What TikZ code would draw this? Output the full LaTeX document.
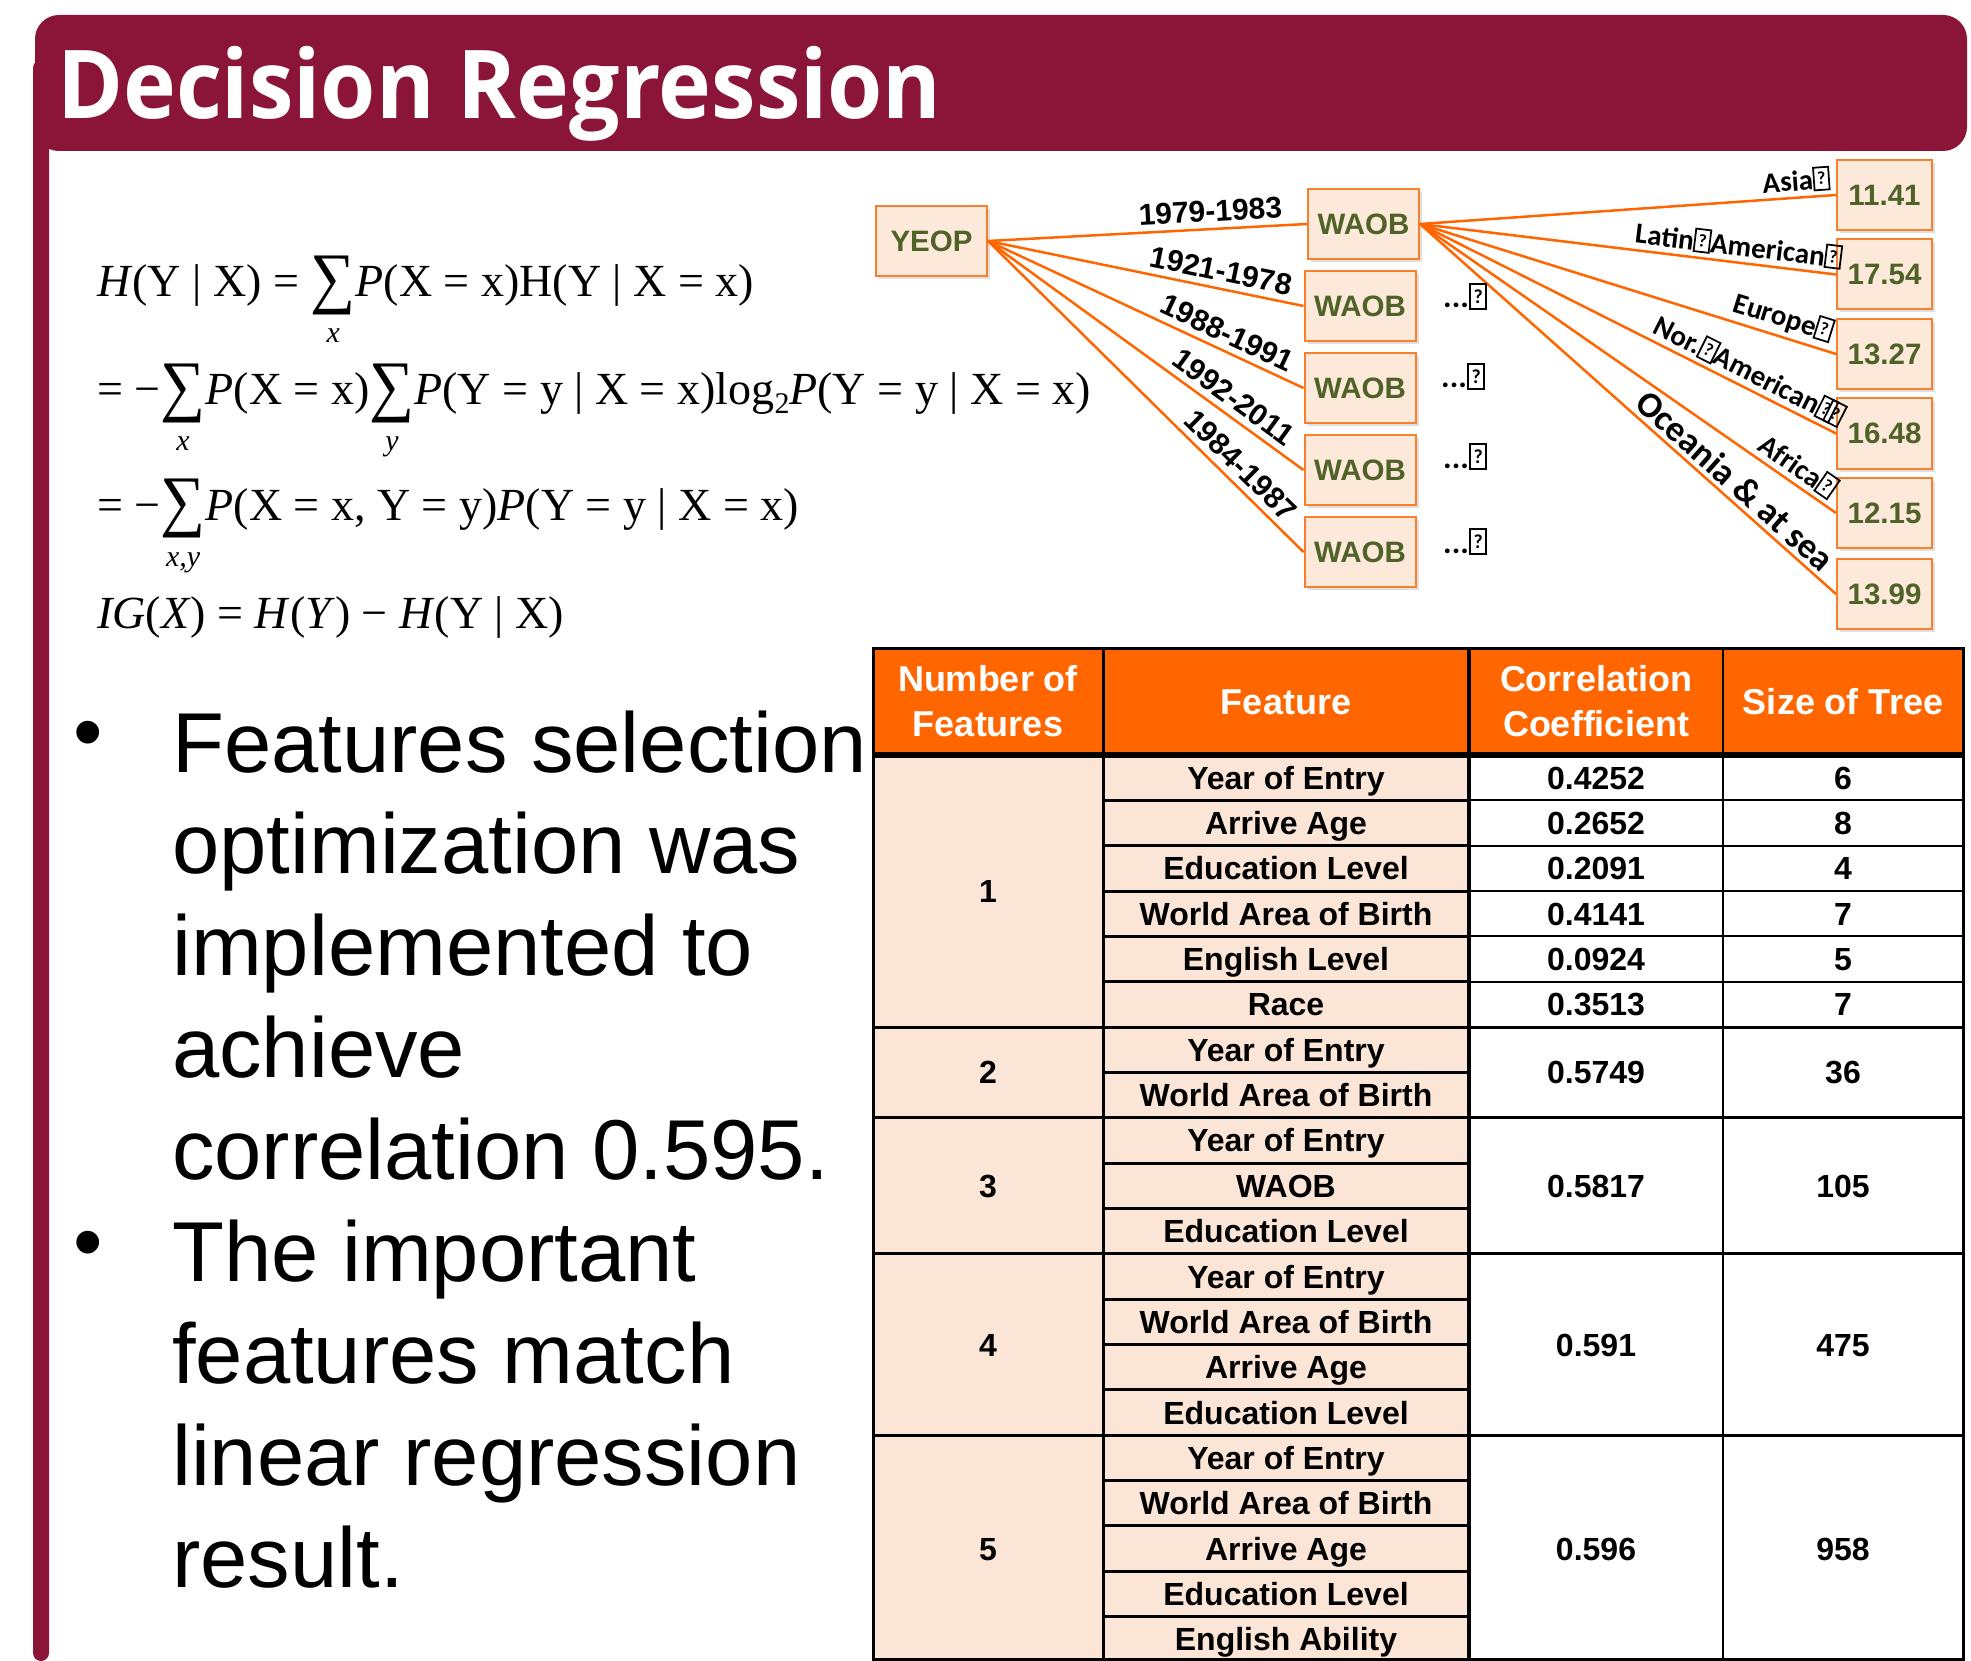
\RequirePackage{fix-cm}
\documentclass[tikz,border=0pt]{standalone}
\usepackage{fontspec}
\usepackage{graphicx}
\usetikzlibrary{shadows}
\setmainfont{Liberation Sans}
\newfontfamily\titlef{Open Sans}
\newfontfamily\calf{Carlito}
\newfontfamily\serf{Liberation Serif}
\newcommand\fsz[1]{\fontsize{#1}{#1}\selectfont}
\newcommand\qb{{\fboxsep=0pt\fboxrule=0.06em\fbox{\vbox to 0.72em{\vss\hbox to 0.46em{\hss\scalebox{0.62}{?}\hss}\vss}}}}
\newcommand\SUMop[1]{\mbox{\rlap{\raisebox{-18pt}{\resizebox{45pt}{59pt}{\raisebox{\depth}{\serf ∑}}}}\makebox[45pt]{\raisebox{-46pt}[0pt][0pt]{\serf\itshape\fsz{30}#1}}}}
\definecolor{mymaroon}{RGB}{139,21,56}
\definecolor{edgeor}{RGB}{255,102,0}
\definecolor{boxor}{RGB}{246,128,44}
\definecolor{boxfill}{RGB}{253,233,217}
\definecolor{olivetxt}{RGB}{79,98,40}
\definecolor{hdror}{RGB}{255,102,0}
\definecolor{peach}{RGB}{251,229,214}
\tikzset{
  tbox/.style={draw=boxor, fill=boxfill, line width=2pt, minimum width=111pt, minimum height=70pt, inner sep=0pt, text=olivetxt, font=\bfseries\fsz{29.5}, drop shadow={shadow xshift=3pt, shadow yshift=-3pt, opacity=0.25, fill=gray}},
  lbox/.style={tbox, minimum width=95pt},
  edge/.style={draw=edgeor, line width=2.5pt},
  elab/.style={sloped, above=6pt, inner sep=0pt, font=\bfseries\fsz{30}},
  llab/.style={sloped, above=4pt, inner sep=0pt, font=\calf\bfseries\fsz{29}},
  dotlab/.style={anchor=base west, inner sep=0pt, font=\calf\bfseries\fsz{32}},
  eqn/.style={anchor=base west, inner sep=0pt, font=\serf\fsz{46}},
  btxt/.style={anchor=base west, inner sep=0pt, font=\fsz{85}},
  bul/.style={inner sep=0pt, font=\fsz{84}},
  cell/.style={anchor=base, inner sep=0pt, font=\bfseries\fsz{32}},
  hcell/.style={anchor=base, inner sep=0pt, text=white, font=\bfseries\fsz{36}},
  rowline/.style={line width=3pt, black},
  thinrow/.style={line width=2pt, black},
  grpline/.style={line width=3pt, black},
}
\begin{document}
\begin{tikzpicture}[x=1pt,y=-1pt]
\useasboundingbox (0,0) rectangle (1971,1661);
% title band and side bar
\fill[mymaroon, rounded corners=24pt] (35,15) rectangle (1967,151);
\fill[mymaroon, rounded corners=8pt] (33,60) rectangle (49,1661);
\node[anchor=base west, inner sep=0pt, text=white, font=\titlef\bfseries\fsz{95}] (title) at (57,119) {\scalebox{0.94}[1]{Decision Regression}};

% equations
\node[eqn] (eq1) at (97,297) {\textit{H}(Y | X) = \SUMop{x}\textit{P}(X = x)H(Y | X = x)};
\node[eqn] (eq2) at (97,405) {= −\SUMop{x}\textit{P}(X = x)\SUMop{y}\textit{P}(Y = y | X = x)log\raisebox{-9pt}{\fsz{30}2}\textit{P}(Y = y | X = x)};
\node[eqn] (eq3) at (97,520) {= −\SUMop{x,y}\textit{P}(X = x, Y = y)\textit{P}(Y = y | X = x)};
\node[eqn] (eq4) at (97,628) {\textit{IG}(\textit{X}) = \textit{H}(\textit{Y}) − \textit{H}(Y | X)};

% tree
\node[tbox] (yeop) at (931.5,241) {YEOP};
\node[tbox] (w1) at (1363.5,224) {WAOB};
\node[tbox] (w2) at (1360,306) {WAOB};
\node[tbox] (w3) at (1360,388) {WAOB};
\node[tbox] (w4) at (1360,470) {WAOB};
\node[tbox] (w5) at (1360,552) {WAOB};
\node[lbox] (l1) at (1884.5,195) {11.41};
\node[lbox] (l2) at (1884.5,274.5) {17.54};
\node[lbox] (l3) at (1884.5,354) {13.27};
\node[lbox] (l4) at (1884.5,433.5) {16.48};
\node[lbox] (l5) at (1884.5,513) {12.15};
\node[lbox] (l6) at (1884.5,594) {13.99};

\draw[edge] (yeop.east) -- node[elab, pos=0.70] {1979-1983} (w1.west);
\draw[edge] (yeop.east) -- node[elab, pos=0.728] {1921-1978} (w2.west);
\draw[edge] (yeop.east) -- node[elab, pos=0.735] {1988-1991} (w3.west);
\draw[edge] (yeop.east) -- node[elab, pos=0.745] {1992-2011} (w4.west);
\draw[edge] (yeop.east) -- node[elab, pos=0.762] {1984-1987} (w5.west);

\draw[edge] (w1.east) -- node[llab, pos=0.907] {Asia\qb} (l1.west);
\draw[edge] (w1.east) -- node[llab, pos=0.761] {Latin\qb American\qb} (l2.west);
\draw[edge] (w1.east) -- node[llab, pos=0.859] {Europe\qb} (l3.west);
\draw[edge] (w1.east) -- node[llab, pos=0.773] {Nor.\qb American\qb\kern-0.25em\qb} (l4.west);
\draw[edge] (w1.east) -- node[llab, pos=0.885] {Africa\qb} (l5.west);
\draw[edge] (w1.east) -- node[llab, pos=0.73, font=\calf\bfseries\fsz{36}] {Oceania \& at sea} (l6.west);

\node[dotlab] (d2) at (1443,308) {...\qb};
\node[dotlab] (d3) at (1441,388) {...\qb};
\node[dotlab] (d4) at (1443,468) {...\qb};
\node[dotlab] (d5) at (1443,553) {...\qb};

% bullets
\node[bul] (b1) at (88,741) {•};
\node[bul] (b2) at (88,1251) {•};
\foreach \t [count=\i from 0] in {Features selection, optimization was, implemented to, achieve, correlation 0.595., The important, features match, linear regression, result.}
  \node[btxt] (bt\i) at (172,{772+101.9*\i}) {\t};

% table
\fill[hdror] (873,648) rectangle (1963,755);
\fill[peach] (873,755) rectangle (1469,1661);
\foreach \k in {1,...,19} \draw[rowline] (1103,{755+45.35*\k}) -- (1469,{755+45.35*\k});
\foreach \k in {1,...,5} \draw[thinrow] (1469,{755+45.35*\k}) -- (1963,{755+45.35*\k});
\foreach \k in {6,8,11,15} \draw[grpline] (873,{755+45.35*\k}) -- (1963,{755+45.35*\k});
\draw[line width=6pt] (873,755) -- (1963,755);
\draw[line width=3pt] (1103,648) -- (1103,1661);
\draw[line width=4pt] (1469,648) -- (1469,1661);
\draw[line width=2pt] (1723,648) -- (1723,1661);
\draw[line width=3pt] (873,648) rectangle (1963,1659.5);

\node[hcell] (h1a) at (988,691) {Number of};
\node[hcell] (h1b) at (988,736) {Features};
\node[hcell] (h2) at (1286,714) {Feature};
\node[hcell] (h3a) at (1596,691) {Correlation};
\node[hcell] (h3b) at (1596,736) {Coefficient};
\node[hcell] (h4) at (1843,714) {Size of Tree};

\foreach \t [count=\i from 0] in {Year of Entry, Arrive Age, Education Level, World Area of Birth, English Level, Race, Year of Entry, World Area of Birth, Year of Entry, WAOB, Education Level, Year of Entry, World Area of Birth, Arrive Age, Education Level, Year of Entry, World Area of Birth, Arrive Age, Education Level, English Ability}
  \node[cell] (feat\i) at (1286,{755+45.35*(\i+0.5)+11.5}) {\t};
\foreach \c/\s [count=\i from 0] in {0.4252/6, 0.2652/8, 0.2091/4, 0.4141/7, 0.0924/5, 0.3513/7} {
  \node[cell] (cc\i) at (1596,{755+45.35*(\i+0.5)+11.5}) {\c};
  \node[cell] (sz\i) at (1843,{755+45.35*(\i+0.5)+11.5}) {\s};
}
\node[cell] (n1) at (988,{755+45.35*3+11.5}) {1};
\node[cell] (n2) at (988,{755+45.35*7+11.5}) {2};
\node[cell] (n3) at (988,{755+45.35*9.5+11.5}) {3};
\node[cell] (n4) at (988,{755+45.35*13+11.5}) {4};
\node[cell] (n5) at (988,{755+45.35*17.5+11.5}) {5};
\node[cell] (c2) at (1596,{755+45.35*7+11.5}) {0.5749};
\node[cell] (c3) at (1596,{755+45.35*9.5+11.5}) {0.5817};
\node[cell] (c4) at (1596,{755+45.35*13+11.5}) {0.591};
\node[cell] (c5) at (1596,{755+45.35*17.5+11.5}) {0.596};
\node[cell] (s2) at (1843,{755+45.35*7+11.5}) {36};
\node[cell] (s3) at (1843,{755+45.35*9.5+11.5}) {105};
\node[cell] (s4) at (1843,{755+45.35*13+11.5}) {475};
\node[cell] (s5) at (1843,{755+45.35*17.5+11.5}) {958};
\end{tikzpicture}
\end{document}
